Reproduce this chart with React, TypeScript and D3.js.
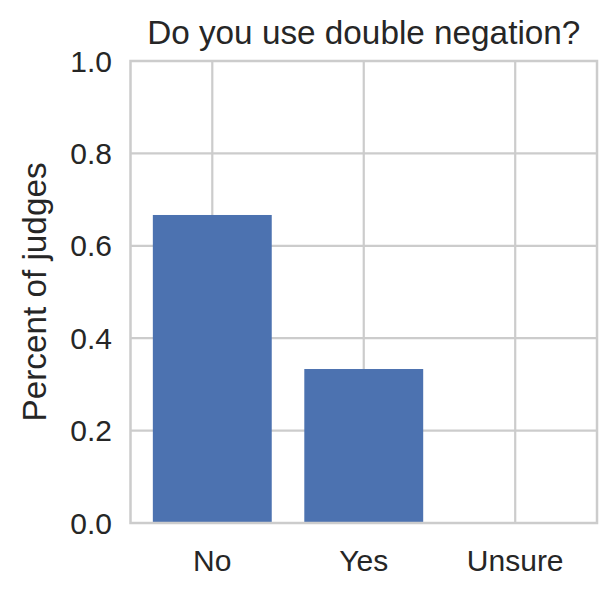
import React from "react";
import * as d3 from "d3";

const categories = ["No", "Yes", "Unsure"];
const values = [0.6667, 0.3333, 0];
const yTicks = [0, 0.2, 0.4, 0.6, 0.8, 1.0];
const title = "Do you use double negation?";
const yLabel = "Percent of judges";

export default function App() {
  const W = 616, H = 597;
  const left = 130.5, right = 597, top = 61, bottom = 523;
  const x = d3.scaleLinear().domain([-0.54, 2.54]).range([left, right]);
  const y = d3.scaleLinear().domain([0, 1]).range([bottom, top]);
  const font = "'Liberation Sans', Arial, sans-serif";
  const grid = "#cccccc";
  const barW = 0.785;
  return (
    <svg width={W} height={H} style={{ position: "absolute", left: 0, top: 0 }}>
      <rect x={0} y={0} width={W} height={H} fill="#fff" />
      {yTicks.map((t) => (
        <line key={"gy" + t} x1={left} x2={right} y1={y(t)} y2={y(t)} stroke={grid} strokeWidth={2.2} />
      ))}
      {categories.map((c, i) => (
        <line key={"gx" + c} x1={x(i)} x2={x(i)} y1={top} y2={bottom} stroke={grid} strokeWidth={2.2} />
      ))}
      {values.map((v, i) => (
        <rect
          key={"b" + i}
          x={x(i - barW / 2)}
          width={x(barW) - x(0)}
          y={y(v)}
          height={y(0) - y(v)}
          fill="#4c72b0"
        />
      ))}
      <rect x={left} y={top} width={right - left} height={bottom - top} fill="none" stroke={grid} strokeWidth={2.5} />
      {yTicks.map((t) => (
        <text key={"ty" + t} x={112} y={y(t)} dy="0.35em" textAnchor="end" fontFamily={font} fontSize={30} fill="#262626">
          {t.toFixed(1)}
        </text>
      ))}
      {categories.map((c, i) => (
        <text key={"tx" + c} x={x(i)} y={571} textAnchor="middle" fontFamily={font} fontSize={30} fill="#262626">
          {c}
        </text>
      ))}
      <text x={(left + right) / 2} y={44} textAnchor="middle" fontFamily={font} fontSize={33.3} fill="#262626">
        {title}
      </text>
      <text
        transform={`translate(46,${(top + bottom) / 2}) rotate(-90)`}
        textAnchor="middle"
        fontFamily={font}
        fontSize={33.3}
        fill="#262626"
      >
        {yLabel}
      </text>
    </svg>
  );
}
